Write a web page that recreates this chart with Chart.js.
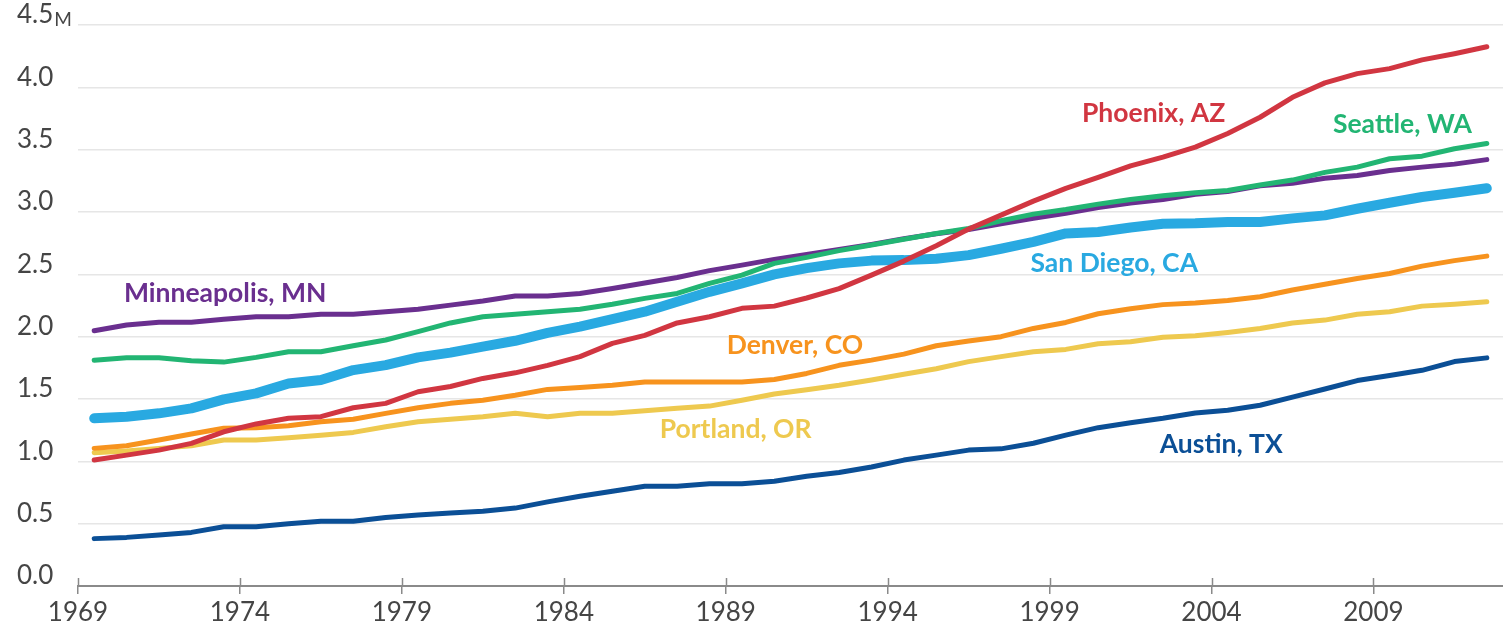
<!DOCTYPE html>
<html>
<head>
<meta charset="utf-8">
<script src="https://cdn.jsdelivr.net/npm/chart.js@4"></script>
<style>
  html, body { margin: 0; padding: 0; background: #fff; }
  #wrap { width: 1503px; height: 632px; position: relative; }
</style>
</head>
<body>
<div id="wrap"><canvas id="grafico"></canvas></div>
<script>
// years of the series (each point drawn at mid-year)
const years = [1969,1970,1971,1972,1973,1974,1975,1976,1977,1978,
  1979,1980,1981,1982,1983,1984,1985,1986,1987,1988,
  1989,1990,1991,1992,1993,1994,1995,1996,1997,1998,
  1999,2000,2001,2002,2003,2004,2005,2006,2007,2008,
  2009,2010,2011,2012];

const xTicks = [1969, 1974, 1979, 1984, 1989, 1994, 1999, 2004, 2009];
const yTicks = [0, 0.5, 1, 1.5, 2, 2.5, 3, 3.5, 4, 4.5];

// values in millions
const austin = [0.38,0.39,0.41,0.43,0.475,0.475,0.50,0.52,0.52,0.55,
  0.57,0.585,0.60,0.625,0.675,0.72,0.76,0.80,0.80,0.82,
  0.82,0.84,0.88,0.91,0.955,1.01,1.05,1.09,1.10,1.145,
  1.21,1.27,1.31,1.345,1.387,1.41,1.45,1.515,1.58,1.648,
  1.688,1.73,1.80,1.83];
const phoenix = [1.01,1.05,1.09,1.144,1.237,1.30,1.345,1.358,1.43,1.465,
  1.558,1.60,1.665,1.71,1.77,1.84,1.946,2.01,2.11,2.16,
  2.227,2.245,2.31,2.385,2.494,2.606,2.73,2.863,2.975,3.087,
  3.19,3.277,3.37,3.44,3.52,3.63,3.76,3.92,4.036,4.11,
  4.15,4.22,4.27,4.325];
const minneapolis = [2.047,2.093,2.115,2.115,2.14,2.16,2.16,2.18,2.18,2.20,
  2.22,2.253,2.286,2.326,2.326,2.347,2.387,2.43,2.475,2.53,
  2.574,2.62,2.66,2.70,2.74,2.785,2.825,2.86,2.905,2.95,
  2.99,3.035,3.072,3.10,3.143,3.165,3.21,3.23,3.27,3.293,
  3.333,3.36,3.384,3.42];
const seattle = [1.81,1.83,1.83,1.807,1.796,1.834,1.879,1.879,1.927,1.973,
  2.04,2.11,2.16,2.18,2.20,2.22,2.26,2.307,2.347,2.427,
  2.494,2.588,2.636,2.69,2.735,2.782,2.828,2.868,2.93,2.983,
  3.02,3.063,3.10,3.13,3.155,3.173,3.216,3.256,3.318,3.36,
  3.427,3.448,3.507,3.55];
const sanDiego = [1.345,1.358,1.385,1.425,1.497,1.545,1.625,1.652,1.732,1.772,
  1.834,1.872,1.92,1.967,2.03,2.08,2.14,2.20,2.28,2.36,
  2.427,2.50,2.55,2.588,2.61,2.614,2.625,2.654,2.705,2.76,
  2.828,2.84,2.876,2.905,2.909,2.92,2.92,2.949,2.973,3.026,
  3.074,3.12,3.154,3.19];
const denver = [1.104,1.125,1.171,1.219,1.265,1.27,1.286,1.318,1.337,1.385,
  1.43,1.465,1.49,1.53,1.577,1.593,1.61,1.636,1.636,1.636,
  1.636,1.657,1.705,1.77,1.812,1.86,1.927,1.965,2.00,2.066,
  2.114,2.184,2.224,2.257,2.27,2.29,2.32,2.374,2.42,2.467,
  2.507,2.566,2.61,2.646];
const portland = [1.069,1.083,1.104,1.125,1.171,1.171,1.19,1.21,1.232,1.278,
  1.318,1.337,1.358,1.385,1.358,1.385,1.385,1.406,1.425,1.443,
  1.49,1.54,1.575,1.61,1.652,1.698,1.743,1.80,1.84,1.879,
  1.898,1.943,1.96,1.995,2.007,2.034,2.066,2.11,2.133,2.18,
  2.20,2.245,2.26,2.28];

const toPoints = arr => arr.map((v, i) => ({ x: years[i] + 0.5, y: v }));

const series = [
  { name: 'Phoenix, AZ', data: phoenix, color: '#d13641', width: 5, order: 1, lx: 2000.0, ly: 3.72 },
  { name: 'Seattle, WA', data: seattle, color: '#22b573', width: 5, order: 2, lx: 2007.75, ly: 3.633 },
  { name: 'Minneapolis, MN', data: minneapolis, color: '#6a2f8f', width: 5, order: 3, lx: 1970.42, ly: 2.277 },
  { name: 'Austin, TX', data: austin, color: '#0b4f96', width: 5, order: 4, lx: 2002.4, ly: 1.067 },
  { name: 'Denver, CO', data: denver, color: '#f7931e', width: 5, order: 5, lx: 1989.03, ly: 1.86 },
  { name: 'Portland, OR', data: portland, color: '#eec94f', width: 5, order: 6, lx: 1986.96, ly: 1.187 },
  { name: 'San Diego, CA', data: sanDiego, color: '#29a9e1', width: 10, order: 7, lx: 1998.41, ly: 2.518 }
];

// city names drawn next to their lines, plus the small "M" on the top tick
const seriesLabels = {
  id: 'seriesLabels',
  afterDraw(chart) {
    const { ctx, scales: { x, y } } = chart;
    ctx.save();
    ctx.font = 'bold 26.5px Lato';
    ctx.textAlign = 'left';
    ctx.textBaseline = 'alphabetic';
    series.forEach(s => {
      ctx.fillStyle = s.color;
      ctx.fillText(s.name, x.getPixelForValue(s.lx), y.getPixelForValue(s.ly));
    });
    // ticks above the x axis line
    ctx.strokeStyle = '#8a8a8a';
    ctx.lineWidth = 1.5;
    xTicks.forEach(t => {
      const px = Math.round(x.getPixelForValue(t)) + 0.5;
      ctx.beginPath();
      ctx.moveTo(px, y.bottom - 8);
      ctx.lineTo(px, y.bottom);
      ctx.stroke();
    });
    // "M" after 4.5
    ctx.font = '26px Lato';
    const w = ctx.measureText('4.5').width;
    ctx.font = '19px Lato';
    ctx.fillStyle = '#454545';
    ctx.fillText('M', y.left + w + 1, y.getPixelForValue(4.5) + 1);
    ctx.restore();
  }
};

new Chart(document.getElementById('grafico').getContext('2d'), {
  type: 'line',
  data: {
    datasets: series.map(s => ({
      label: s.name,
      data: toPoints(s.data),
      borderColor: s.color,
      borderWidth: s.width,
      borderCapStyle: 'round',
      borderJoinStyle: 'round',
      pointRadius: 0,
      tension: 0,
      fill: false,
      order: s.order
    }))
  },
  options: {
    responsive: true,
    maintainAspectRatio: false,
    animation: false,
    layout: { padding: { left: 17, right: 0, top: 25, bottom: 0 } },
    plugins: {
      legend: { display: false },
      tooltip: { enabled: false }
    },
    scales: {
      x: {
        type: 'linear',
        min: 1969,
        max: 2013,
        afterBuildTicks: scale => { scale.ticks = xTicks.map(v => ({ value: v })); },
        afterFit: scale => { scale.height = 46; },
        grid: { drawOnChartArea: false, tickLength: 8, color: '#8a8a8a', lineWidth: 1.5 },
        border: { color: '#8a8a8a', width: 2 },
        ticks: {
          color: '#454545',
          font: { family: 'Lato', size: 26 },
          padding: 3,
          maxRotation: 0,
          callback: v => String(v)
        }
      },
      y: {
        min: 0,
        max: 4.5,
        afterBuildTicks: scale => { scale.ticks = yTicks.map(v => ({ value: v })); },
        afterFit: scale => { scale.width = 61; },
        grid: { color: '#e6e6e6', lineWidth: 1.5, drawTicks: false },
        border: { display: false },
        ticks: {
          color: '#454545',
          font: { family: 'Lato', size: 26 },
          crossAlign: 'far',
          labelOffset: -10,
          callback: v => v.toFixed(1)
        }
      }
    }
  },
  plugins: [seriesLabels]
});
</script>
</body>
</html>
